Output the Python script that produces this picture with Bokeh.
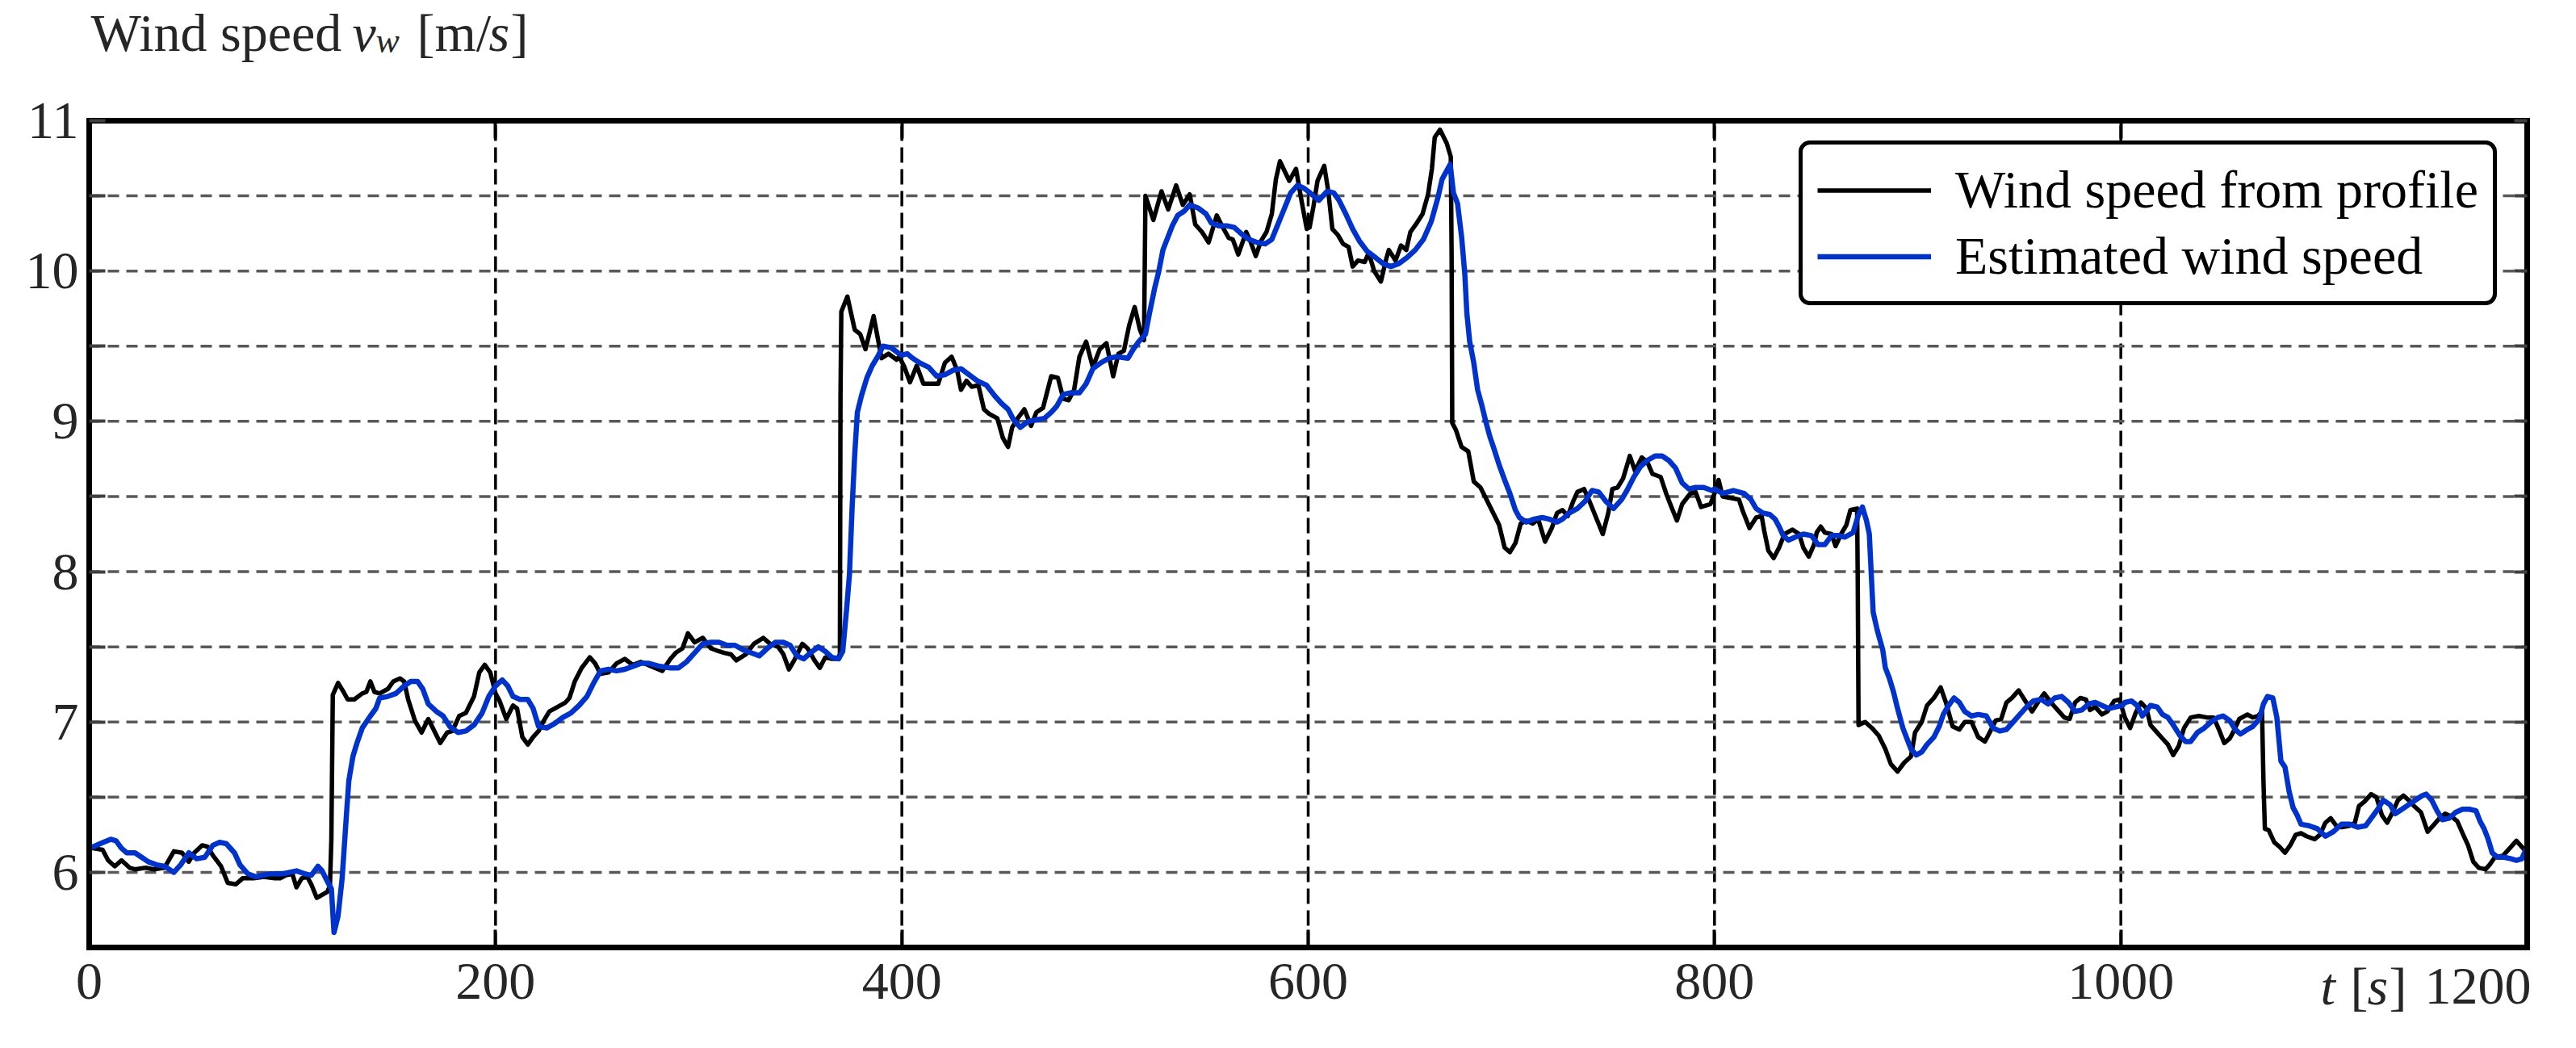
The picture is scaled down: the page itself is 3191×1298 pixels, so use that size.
from bokeh.plotting import figure
from bokeh.models import Range1d, FixedTicker, LinearAxis, Label, Legend, LegendItem, Grid
from bokeh.embed import file_html
from bokeh.resources import INLINE

# ---------------- data ----------------
t_profile = [0, 2, 6.6, 9.3, 12.6, 15.9, 19.9, 22.5, 27.8, 31.8, 37, 41.7, 45.7, 49, 51.7, 55.6, 58.3, 61,
             64.9, 68.2, 72.2, 75.5, 80.8, 86, 91.4, 94, 96.7, 100, 102, 104.6, 107.3, 109.3, 112, 114.6,
             117.2, 118.5, 119.2, 119.9, 122.5, 125.2, 127.2, 130.5, 134.4, 136.4, 138.4, 140.4, 143, 147,
             149.7, 153, 155, 157, 160.3, 163.6, 166.9, 169.5, 172.8, 176.2, 178.8, 182.1, 185.4, 189.4,
             192, 194.7, 197.4, 200, 202, 205.3, 208.6, 210.6, 213.2, 215.9, 218.5, 221.2, 223.8, 226.5,
             230.5, 234.4, 236.4, 239, 242.4, 246.4, 249, 251.7, 255.6, 259.6, 263.6, 267.5, 271.5, 276.8,
             282.1, 286.1, 288.7, 292, 294.7, 298, 302, 306, 310, 312.6, 315.9, 318.5, 323.2, 327.2, 331.8,
             335.1, 339.1, 341.7, 344.4, 347, 351, 353.6, 357, 359.6, 362.3, 365.6, 368.2, 369.5, 369.8,
             370.2, 373.2, 376.8, 379.5, 382.1, 386.1, 390, 393.4, 397.4, 398.7, 401.3, 404, 407.3, 410.6,
             414.6, 417.9, 421.2, 424.5, 427.2, 429.1, 431.8, 434.4, 437.7, 440.4, 443, 447, 449.7, 452.3,
             454.3, 457, 460.3, 463.6, 466.2, 469.5, 473.5, 476.8, 479.5, 482.1, 484.8, 487.4, 490.7, 494,
             497.4, 500.7, 504, 506.6, 509.3, 511.9, 514.6, 517.2, 519.2, 519.9, 523.8, 527.8, 531.1, 535,
             538.3, 541.7, 544.4, 547.7, 551, 555, 557.6, 560.9, 562.9, 565.6, 569.5, 571.5, 574.2, 576.8,
             579.5, 582.1, 584.1, 586.1, 590.7, 594, 596.7, 599.3, 600.7, 602.6, 604.6, 607.9, 609.9, 611.9,
             614.6, 617.2, 619.9, 621.9, 624.5, 627.8, 629.8, 632.5, 635.8, 638.4, 639.7, 643, 645.7, 648.3,
             650.3, 653, 656.3, 659, 660.9, 662.3, 664.9, 668.2, 670.2, 670.6, 670.9, 672.8, 675.5, 678.8,
             681.5, 684.8, 687.4, 690.7, 694, 696.7, 699.3, 702, 704.6, 707.3, 710.6, 713.2, 716.6, 719.9,
             722.5, 725.2, 727.8, 730.5, 732.5, 735.8, 738.4, 741.7, 745, 747.7, 749.7, 752.3, 755, 758.3,
             760.9, 764.2, 766.9, 769.5, 773.5, 776.2, 778.8, 781.5, 784.1, 788.1, 790.7, 793.4, 798, 800,
             802, 804, 808, 812, 814, 817.2, 820.5, 823.2, 824.5, 826.5, 829.1, 831.8, 834.4, 838.4, 841.7,
             843.7, 846.4, 849, 850.3, 852.3, 854.3, 857.6, 859.6, 862.3, 864.9, 866.9, 870.2, 870.5, 870.9,
             874.2, 877.5, 880.8, 884.1, 886.8, 890.1, 893.4, 896.7, 898.7, 902, 904.6, 908, 911.3, 913.9,
             917.2, 920.5, 923.2, 926.5, 929.8, 933.1, 935.8, 938.4, 941.1, 943.7, 946.4, 949.7, 953, 956.3,
             959.6, 962.3, 965.6, 968.9, 972.2, 974.8, 977.5, 980.1, 982.8, 984.8, 987.4, 990.7, 993.4,
             996.7, 999.3, 1002, 1004.6, 1007.3, 1009.9, 1012.6, 1014.6, 1017.2, 1020.5, 1023.2, 1025.8,
             1028.5, 1031.1, 1034.4, 1038.4, 1042.4, 1045.7, 1048.3, 1050.9, 1053.6, 1055.6, 1058.3, 1062.3,
             1064.9, 1067.5, 1069.5, 1070.2, 1070.9, 1072.8, 1075.5, 1078.1, 1080.8, 1083.4, 1086.1, 1088.7,
             1091.4, 1095.4, 1098, 1100.7, 1103.3, 1106, 1108.6, 1112.6, 1115.2, 1117.2, 1119.9, 1123.2,
             1125.8, 1128.5, 1131.1, 1133.8, 1136.4, 1139.1, 1141.7, 1144.4, 1147.7, 1151, 1154.3, 1156.9,
             1159.6, 1162.9, 1165.6, 1168.2, 1170.9, 1173.5, 1176.2, 1179.5, 1181.5, 1184.1, 1188.1, 1191.4,
             1194.7, 1198, 1200]
v_profile = [6.16, 6.16, 6.15, 6.08, 6.04, 6.08, 6.03, 6.02, 6.03, 6.02, 6.03, 6.14, 6.13, 6.07, 6.13, 6.18,
             6.17, 6.11, 6.04, 5.93, 5.92, 5.96, 5.96, 5.97, 5.96, 5.96, 5.98, 5.99, 5.90, 5.96, 5.97, 5.92,
             5.83, 5.85, 5.87, 5.91, 6.22, 7.18, 7.26, 7.20, 7.15, 7.15, 7.19, 7.20, 7.27, 7.20, 7.19, 7.22,
             7.27, 7.29, 7.27, 7.15, 7.01, 6.93, 7.02, 6.95, 6.86, 6.93, 6.94, 7.04, 7.06, 7.17, 7.33, 7.38,
             7.33, 7.19, 7.14, 7.02, 7.11, 7.09, 6.90, 6.85, 6.90, 6.94, 7.01, 7.07, 7.10, 7.13, 7.16, 7.27,
             7.36, 7.43, 7.39, 7.32, 7.33, 7.39, 7.42, 7.38, 7.40, 7.37, 7.34, 7.42, 7.46, 7.49, 7.59, 7.53,
             7.56, 7.49, 7.47, 7.46, 7.45, 7.41, 7.45, 7.52, 7.56, 7.52, 7.50, 7.45, 7.35, 7.41, 7.52, 7.49,
             7.41, 7.36, 7.43, 7.42, 7.42, 7.45, 9.17, 9.73, 9.83, 9.61, 9.58, 9.48, 9.70, 9.42, 9.45, 9.41,
             9.43, 9.36, 9.26, 9.37, 9.25, 9.25, 9.25, 9.39, 9.43, 9.34, 9.21, 9.27, 9.23, 9.24, 9.08, 9.05,
             9.02, 8.89, 8.83, 8.96, 9.02, 9.08, 8.97, 9.06, 9.09, 9.30, 9.29, 9.15, 9.14, 9.21, 9.43, 9.53,
             9.36, 9.48, 9.52, 9.30, 9.45, 9.47, 9.64, 9.76, 9.61, 9.54, 10.50, 10.34, 10.53, 10.41, 10.57,
             10.44, 10.51, 10.31, 10.26, 10.19, 10.37, 10.30, 10.22, 10.21, 10.11, 10.26, 10.20, 10.10, 10.20,
             10.26, 10.38, 10.61, 10.73, 10.60, 10.68, 10.47, 10.28, 10.29, 10.43, 10.60, 10.70, 10.53, 10.28,
             10.24, 10.18, 10.16, 10.03, 10.07, 10.06, 10.12, 10.00, 9.93, 10.08, 10.14, 10.07, 10.17, 10.14,
             10.26, 10.31, 10.38, 10.51, 10.68, 10.89, 10.94, 10.85, 10.76, 10.10, 8.99, 8.94, 8.83, 8.80,
             8.60, 8.56, 8.49, 8.40, 8.31, 8.16, 8.13, 8.19, 8.32, 8.34, 8.32, 8.35, 8.20, 8.29, 8.39, 8.41,
             8.37, 8.47, 8.53, 8.55, 8.47, 8.36, 8.25, 8.39, 8.55, 8.56, 8.62, 8.77, 8.67, 8.76, 8.73, 8.65,
             8.63, 8.52, 8.43, 8.34, 8.45, 8.52, 8.53, 8.43, 8.45, 8.52, 8.61, 8.50, 8.49, 8.48, 8.40, 8.29,
             8.36, 8.37, 8.27, 8.14, 8.09, 8.16, 8.25, 8.28, 8.25, 8.16, 8.10, 8.18, 8.26, 8.30, 8.26, 8.25,
             8.17, 8.25, 8.31, 8.41, 8.42, 7.95, 6.98, 7.00, 6.96, 6.91, 6.82, 6.72, 6.67, 6.73, 6.77, 6.93,
             7.00, 7.11, 7.16, 7.23, 7.13, 6.97, 6.95, 7.00, 7.00, 6.90, 6.87, 6.94, 7.01, 7.02, 7.13, 7.16,
             7.21, 7.14, 7.07, 7.14, 7.19, 7.13, 7.08, 7.03, 7.02, 7.13, 7.16, 7.15, 7.08, 7.10, 7.05, 7.07,
             7.14, 7.15, 7.03, 6.96, 7.06, 7.13, 7.09, 6.98, 6.94, 6.89, 6.85, 6.78, 6.84, 6.96, 7.03, 7.04,
             7.03, 7.03, 6.95, 6.86, 6.89, 6.94, 7.02, 7.05, 7.03, 7.04, 7.07, 6.61, 6.29, 6.28, 6.20, 6.17,
             6.13, 6.18, 6.25, 6.26, 6.24, 6.22, 6.25, 6.33, 6.36, 6.31, 6.30, 6.31, 6.33, 6.44, 6.47, 6.52,
             6.50, 6.38, 6.33, 6.40, 6.48, 6.51, 6.48, 6.44, 6.40, 6.27, 6.32, 6.36, 6.39, 6.37, 6.34, 6.26,
             6.18, 6.07, 6.03, 6.02, 6.05, 6.10, 6.11, 6.16, 6.21, 6.16, 6.13]

t_est = [0, 2, 5.3, 10.6, 13.2, 15.9, 18.5, 22.5, 25.8, 29.1, 33.1, 37.1, 41.7, 45, 49, 52.9, 56.9, 60.9,
         64.2, 67.5, 71.5, 74.2, 78.1, 82.1, 88.7, 95.4, 102, 106, 109.3, 112.6, 114.6, 117.2, 119.2, 120.5,
         122.5, 124.5, 126.5, 127.8, 129.8, 131.8, 134.4, 138.4, 141.1, 143, 147, 151, 155, 158.3, 161.6,
         164.2, 166.9, 170.9, 174.2, 177.5, 181.5, 185.4, 189.4, 193.4, 196.7, 200, 203.3, 206, 208.6, 212,
         215.9, 218.5, 221.2, 225.2, 229.1, 233.1, 237.1, 241.1, 245, 248.3, 251.7, 255.6, 259.6, 263.6,
         267.5, 271.5, 275.5, 280.8, 286.1, 290.1, 294, 298, 302, 306, 310, 314, 317.9, 321.9, 325.8, 329.8,
         333.8, 337.7, 341.7, 345, 348.3, 351.7, 355, 358.9, 362.3, 365.6, 368.9, 370.9, 372.8, 374.2, 375.5,
         376.8, 378.1, 380.1, 382.8, 385.4, 388.1, 390.7, 394.7, 398.7, 400, 402.6, 405.3, 408.6, 413.2,
         417.2, 421.2, 425.2, 429.1, 433.1, 437.1, 441.7, 445.7, 449, 452.3, 455, 458.3, 462.3, 466.2, 470.2,
         473.5, 476.2, 479.5, 483.4, 487.4, 490.7, 494, 498, 502, 505.9, 511.3, 513.9, 516.6, 519.9, 521.9,
         524.5, 526.5, 528.5, 530.5, 533.1, 535.8, 539.1, 541.7, 545.7, 549.7, 552.3, 556.3, 560.3, 563.6,
         566.9, 570.9, 574.8, 578.8, 582.1, 584.8, 588.1, 591.4, 594.7, 598, 600, 602.6, 605.3, 609.3, 612.6,
         615.2, 618.5, 621.9, 625.2, 629.1, 633.1, 636.8, 640.7, 644.7, 648.7, 652.7, 656.7, 660.6, 663.9,
         665.9, 669.9, 671.5, 673.5, 675.5, 677.1, 678.1, 679.5, 681.5, 683.4, 685.4, 687.4, 689.4, 691.4,
         694, 696.7, 699.3, 702, 704, 707.3, 711.3, 715.2, 718.5, 722.5, 725.2, 728.5, 732.5, 736.4, 739.7,
         743, 746.4, 750.3, 754.3, 756.9, 760.3, 763.6, 766.9, 770.9, 774.2, 777.5, 780.8, 784.1, 787.4,
         790.7, 794.7, 798.7, 800, 804, 809.3, 814.6, 817.9, 820.5, 823.8, 827.2, 829.8, 831.8, 833.8, 836.4,
         839.7, 843.7, 847.7, 851, 854.3, 857.6, 860.9, 864.2, 868.2, 870.9, 872.8, 874.8, 876.2, 877.1,
         878.1, 880.1, 882.8, 884.1, 886.1, 888.1, 890.1, 892.7, 894.7, 896.7, 899.3, 902, 904.6, 908, 910.6,
         912.6, 915.2, 917.9, 920.5, 923.2, 926.5, 929.8, 933.8, 937.1, 940.4, 943.7, 947, 950.3, 953.6,
         956.9, 960.9, 964.2, 967.5, 970.9, 974.2, 977.5, 980.8, 984.1, 987.4, 990.7, 994, 997.4, 1000.7,
         1002, 1005.3, 1008, 1010.6, 1014.6, 1017.9, 1020.5, 1023.2, 1025.8, 1029.1, 1031.8, 1034.4, 1037.7,
         1041.1, 1044.4, 1047.7, 1050.3, 1053.6, 1056.3, 1058.9, 1062.3, 1064.9, 1068.2, 1070.2, 1072.2,
         1074.8, 1076.8, 1078.8, 1080.8, 1082.8, 1084.8, 1086.8, 1088.7, 1092.7, 1096.7, 1100.7, 1104.6,
         1108.6, 1112.6, 1116.6, 1120.5, 1123.8, 1126.5, 1129.1, 1132.5, 1135.1, 1138.4, 1141.7, 1145,
         1148.3, 1150.3, 1153, 1155.6, 1158.3, 1161.6, 1164.9, 1168.2, 1171.5, 1174.8, 1176.8, 1178.8,
         1180.8, 1182.8, 1185.4, 1188.7, 1192.1, 1194.7, 1197.4, 1199.3, 1200]
v_est = [6.17, 6.17, 6.19, 6.22, 6.21, 6.16, 6.13, 6.13, 6.10, 6.07, 6.05, 6.04, 6.00, 6.05, 6.13, 6.09, 6.10,
         6.18, 6.20, 6.19, 6.13, 6.05, 5.99, 5.97, 5.99, 5.99, 6.01, 5.99, 5.98, 6.04, 6.01, 5.94, 5.89, 5.60,
         5.71, 5.96, 6.36, 6.61, 6.77, 6.86, 6.96, 7.04, 7.09, 7.16, 7.17, 7.19, 7.24, 7.27, 7.27, 7.22, 7.12,
         7.07, 7.04, 6.97, 6.93, 6.94, 6.98, 7.06, 7.17, 7.24, 7.28, 7.24, 7.17, 7.15, 7.15, 7.09, 6.97, 6.96,
         6.99, 7.03, 7.06, 7.11, 7.17, 7.26, 7.34, 7.35, 7.34, 7.35, 7.37, 7.39, 7.39, 7.37, 7.36, 7.36, 7.40,
         7.46, 7.52, 7.53, 7.53, 7.51, 7.51, 7.48, 7.46, 7.44, 7.49, 7.53, 7.53, 7.51, 7.44, 7.42, 7.46, 7.50,
         7.47, 7.43, 7.42, 7.47, 7.75, 7.98, 8.42, 8.78, 9.06, 9.17, 9.29, 9.37, 9.43, 9.50, 9.49, 9.45, 9.44,
         9.45, 9.42, 9.39, 9.36, 9.30, 9.31, 9.34, 9.35, 9.31, 9.27, 9.24, 9.17, 9.12, 9.08, 9.01, 8.96, 9.00,
         9.01, 9.02, 9.06, 9.10, 9.18, 9.19, 9.19, 9.25, 9.35, 9.39, 9.42, 9.43, 9.42, 9.48, 9.53, 9.58, 9.72,
         9.89, 10.00, 10.14, 10.21, 10.30, 10.37, 10.40, 10.44, 10.42, 10.38, 10.32, 10.30, 10.30, 10.29,
         10.25, 10.21, 10.19, 10.18, 10.21, 10.30, 10.41, 10.52, 10.57, 10.55, 10.53, 10.50, 10.47, 10.53,
         10.52, 10.47, 10.38, 10.28, 10.20, 10.13, 10.09, 10.05, 10.03, 10.05, 10.09, 10.14, 10.21, 10.33,
         10.49, 10.61, 10.71, 10.52, 10.45, 10.23, 9.98, 9.72, 9.53, 9.39, 9.21, 9.11, 9.00, 8.90, 8.82, 8.71,
         8.61, 8.52, 8.41, 8.36, 8.33, 8.35, 8.36, 8.35, 8.33, 8.35, 8.39, 8.42, 8.47, 8.54, 8.53, 8.47, 8.42,
         8.48, 8.54, 8.63, 8.70, 8.74, 8.77, 8.77, 8.74, 8.69, 8.59, 8.55, 8.56, 8.56, 8.54, 8.55, 8.52, 8.54,
         8.52, 8.48, 8.42, 8.39, 8.38, 8.35, 8.30, 8.24, 8.21, 8.23, 8.25, 8.24, 8.18, 8.18, 8.24, 8.24, 8.23,
         8.26, 8.38, 8.43, 8.34, 8.25, 8.00, 7.73, 7.61, 7.48, 7.36, 7.29, 7.20, 7.09, 6.96, 6.89, 6.82, 6.78,
         6.80, 6.85, 6.90, 6.97, 7.05, 7.11, 7.16, 7.13, 7.07, 7.04, 7.05, 7.04, 6.96, 6.94, 6.95, 7.00, 7.05,
         7.10, 7.14, 7.15, 7.12, 7.16, 7.17, 7.13, 7.07, 7.08, 7.12, 7.13, 7.11, 7.09, 7.10, 7.11, 7.13, 7.14,
         7.11, 7.04, 7.11, 7.10, 7.05, 7.03, 6.98, 6.91, 6.87, 6.87, 6.93, 6.96, 7.00, 7.03, 7.04, 7.01, 6.95,
         6.92, 6.95, 6.97, 7.02, 7.12, 7.17, 7.16, 7.03, 6.74, 6.70, 6.54, 6.43, 6.38, 6.32, 6.31, 6.29, 6.24,
         6.27, 6.32, 6.32, 6.30, 6.31, 6.37, 6.42, 6.48, 6.45, 6.39, 6.42, 6.45, 6.48, 6.51, 6.52, 6.48, 6.41,
         6.35, 6.36, 6.40, 6.42, 6.42, 6.41, 6.34, 6.29, 6.22, 6.13, 6.10, 6.10, 6.09, 6.08, 6.09, 6.15, 6.15]

x_ticks = [0, 200, 400, 600, 800, 1000, 1200]
x_tick_labels = ["0", "200", "400", "600", "800", "1000", ""]
x_grid = [200, 400, 600, 800, 1000]
y_ticks = [6.0, 6.5, 7.0, 7.5, 8.0, 8.5, 9.0, 9.5, 10.0, 10.5, 11.0]
y_tick_labels = ["6", "", "7", "", "8", "", "9", "", "10", "", "11"]
y_grid = [6.0, 6.5, 7.0, 7.5, 8.0, 8.5, 9.0, 9.5, 10.0, 10.5]
legend_labels = ["Wind speed from profile", "Estimated wind speed"]

XMIN, XMAX, YMIN, YMAX = 0, 1200, 5.5, 11

# ---------------- layout ----------------
W, H = 3175, 1282
FL, FR, FT, FB = 110, 3130, 149, 1173          # edges of the drawn plot box, in canvas pixels
FONT = "Liberation Serif"
FS = "66px"
TXT = "#262626"


def tx(px):
    return XMIN + (px - FL) * (XMAX - XMIN) / (FR - FL)


def vy(py):
    return YMIN + (FB - py) * (YMAX - YMIN) / (FB - FT)


# the plotting frame spans the whole canvas so that every text stays inside it
p = figure(width=W, height=H, output_backend="svg", toolbar_location=None,
           x_axis_location=None, y_axis_location=None,
           x_range=Range1d(tx(0), tx(W)), y_range=Range1d(vy(H), vy(0)),
           min_border_left=0, min_border_right=0, min_border_top=0, min_border_bottom=0,
           background_fill_color="white", border_fill_color="white")
p.outline_line_color = None
# hide the automatic grids of the figure
for r in list(p.center):
    if isinstance(r, Grid):
        r.visible = False
        r.grid_line_color = None

# grid lines, limited to the plot box
p.segment(x0=x_grid, x1=x_grid, y0=[YMIN] * len(x_grid), y1=[YMAX] * len(x_grid),
          line_color="black", line_width=3.5, line_dash="19 8")
p.segment(x0=[XMIN] * len(y_grid), x1=[XMAX] * len(y_grid), y0=y_grid, y1=y_grid,
          line_color="#595959", line_width=3.5, line_dash="14 9")

# axes pinned to the box edges
xa = LinearAxis(fixed_location=YMIN, ticker=FixedTicker(ticks=x_ticks),
                major_label_overrides=dict(zip(x_ticks, x_tick_labels)))
ya = LinearAxis(fixed_location=XMIN, ticker=FixedTicker(ticks=y_ticks),
                major_label_overrides=dict(zip(y_ticks, y_tick_labels)))
ax_r = LinearAxis(fixed_location=XMAX, ticker=FixedTicker(ticks=y_ticks),
                  major_label_overrides={k: "" for k in y_ticks})
ax_t = LinearAxis(fixed_location=YMAX, ticker=FixedTicker(ticks=x_ticks),
                  major_label_overrides={k: "" for k in x_ticks})
for ax in (xa, ya, ax_r, ax_t):
    ax.axis_line_color = None
    ax.major_tick_out = 0
    ax.minor_tick_line_color = None
    ax.major_label_text_font = FONT
    ax.major_label_text_font_size = FS
    ax.major_label_text_color = TXT
    ax.major_tick_line_width = 4
xa.major_tick_in = 22
xa.major_tick_line_color = "black"
xa.major_label_standoff = 20
ya.major_tick_in = 20
ya.major_tick_line_color = "#404040"
ya.major_label_standoff = 13
ax_r.major_tick_in = 16
ax_r.major_tick_line_color = "#404040"
ax_t.major_tick_in = 22
ax_t.major_tick_line_color = "black"
p.add_layout(xa, "below")
p.add_layout(ya, "left")
p.add_layout(ax_r, "right")
p.add_layout(ax_t, "above")

# series
r1 = p.line(t_profile, v_profile, line_color="black", line_width=5.5, line_join="round")
r2 = p.line(t_est, v_est, line_color="#0033CC", line_width=6.5, line_join="round")

# plot box
p.quad(left=[XMIN], right=[XMAX], bottom=[YMIN], top=[YMAX], fill_color=None,
       line_color="black", line_width=7, line_join="miter")

legend = Legend(items=[LegendItem(label=legend_labels[0], renderers=[r1]),
                       LegendItem(label=legend_labels[1], renderers=[r2])],
                location=(2228, H - 378), margin=0, padding=18, spacing=6,
                glyph_width=141, glyph_height=75, label_height=75, label_standoff=30,
                label_text_font=FONT, label_text_font_size=FS, label_text_color="black",
                border_line_color="black", border_line_width=5, border_line_alpha=1.0,
                background_fill_color="white", background_fill_alpha=1.0)
try:
    legend.border_radius = 14
except Exception:
    pass
p.add_layout(legend)


def lab(text, px, py, size=FS, style="normal", align="left"):
    p.add_layout(Label(x=tx(px), y=vy(py), text=text, text_font=FONT, text_font_size=size,
                       text_font_style=style, text_align=align, text_baseline="alphabetic",
                       text_color=TXT))


# y-axis title: Wind speed v_w [m/s]
lab("Wind speed", 112, 40)
lab("v", 436, 40, style="italic")
lab("w", 465, 50, size="44px", style="italic")
lab("[m/", 516, 40)
lab("s", 605, 40, style="italic")
lab("]", 632, 40)

# x-axis title and last tick: t [s] 1200
lab("t", 2874, 1221, style="italic")
lab("[", 2911, 1221)
lab("s", 2932, 1221, style="italic")
lab("]", 2959, 1221)
lab("1200", 3135, 1221, align="right")

open("out.html", "w").write(file_html(p, INLINE))
